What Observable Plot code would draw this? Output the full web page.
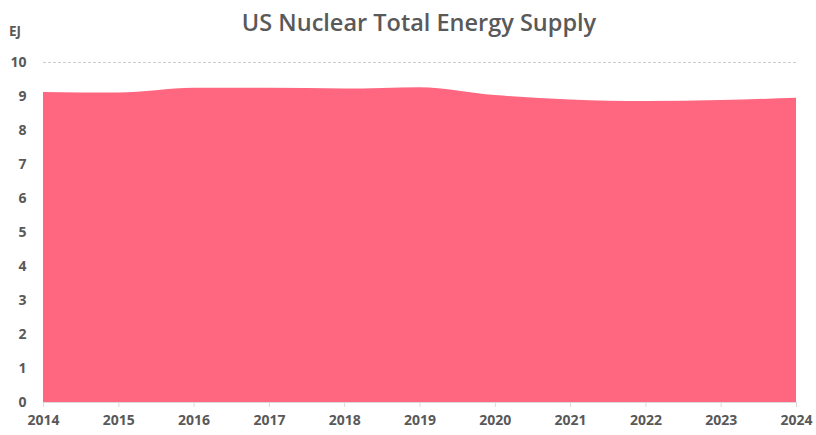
<!DOCTYPE html>
<html>
<head>
<meta charset="utf-8">
<script src="https://cdn.jsdelivr.net/npm/d3@7"></script>
<script src="https://cdn.jsdelivr.net/npm/@observablehq/plot@0.6"></script>
<style>
  body { margin: 0; background: #fff; width: 816px; height: 435px; overflow: hidden; position: relative; }
  #title { height: 48px; line-height: 44px; text-align: center; font-family: "Open Sans", "Liberation Sans", sans-serif; font-weight: 600; font-size: 23.5px; color: #595959; padding-left: 22px; }
  #unit { position: absolute; left: 9px; top: 22px; font-family: "Open Sans", sans-serif; font-weight: 700; font-size: 13.5px; color: #595959; }
</style>
</head>
<body>
<div id="title">US Nuclear Total Energy Supply</div>
<div id="unit">EJ</div>
<div id="chart"></div>
<script>
const years = [2014, 2015, 2016, 2017, 2018, 2019, 2020, 2021, 2022, 2023, 2024];
const supply = [9.12, 9.10, 9.24, 9.24, 9.22, 9.26, 9.03, 8.90, 8.85, 8.88, 8.95];
const yTicks = [0, 1, 2, 3, 4, 5, 6, 7, 8, 9, 10];

const data = years.map((y, i) => ({year: y, value: supply[i]}));

const chart = Plot.plot({
  width: 816,
  height: 387,
  marginTop: 14,
  marginBottom: 33,
  marginLeft: 43,
  marginRight: 20,
  style: {fontFamily: "Open Sans, sans-serif", fontSize: "14px", fontWeight: 700, color: "#595959", background: "#fff"},
  x: {domain: [2014, 2024], ticks: years, tickFormat: d => String(d), label: null},
  y: {domain: [0, 10], ticks: yTicks, label: null},
  marks: [
    Plot.ruleY([10], {stroke: "#bfbfbf", strokeDasharray: "3,2", strokeWidth: 0.8}),
    Plot.areaY(data, {x: "year", y: "value", fill: "#FF6680", curve: "monotone-x"}),
    Plot.ruleY([0], {stroke: "#d9d9d9", strokeWidth: 1}),
    Plot.axisX({ticks: years, tickFormat: d => String(d), tickSize: 5, tickPadding: 8, stroke: "#d9d9d9", label: null, fill: "#595959"}),
    Plot.axisY({ticks: yTicks, tickSize: 0, tickPadding: 17, label: null, fill: "#595959"})
  ]
});
document.getElementById("chart").appendChild(chart);
</script>
</body>
</html>
